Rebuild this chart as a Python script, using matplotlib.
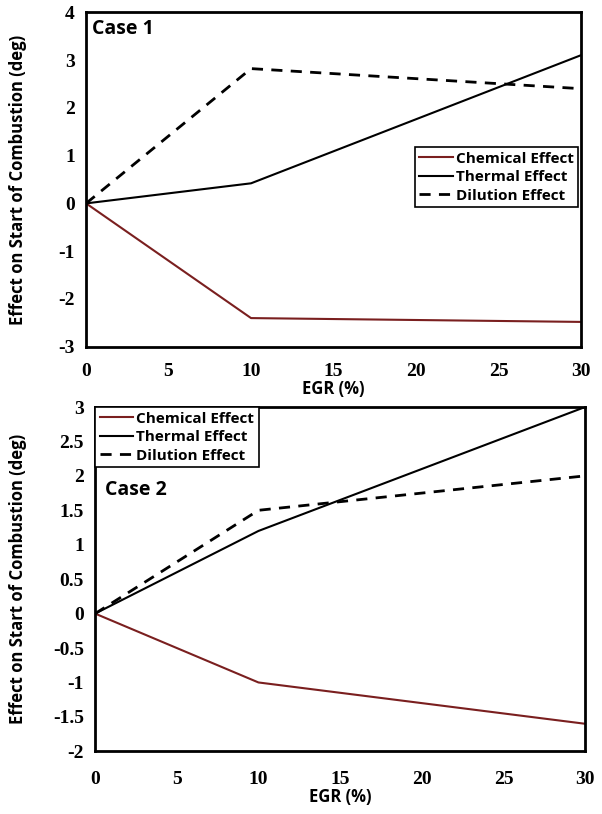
import matplotlib
matplotlib.use("Agg")
import matplotlib.pyplot as plt
from matplotlib.ticker import FuncFormatter, MultipleLocator

plt.rcParams['axes.unicode_minus'] = False

# data
egr = [0, 10, 30]

case1_chemical = [0, -2.4, -2.48]
case1_thermal = [0, 0.42, 3.1]
case1_dilution = [0, 2.82, 2.4]

case2_chemical = [0, -1.0, -1.6]
case2_thermal = [0, 1.2, 3.0]
case2_dilution = [0, 1.5, 2.0]

labels = ['Chemical Effect', 'Thermal Effect', 'Dilution Effect']
chem_color = '#7a1f1f'

label_font = dict(family='Open Sans', weight='bold', size=12)
tick_font = dict(family='Liberation Serif', weight='bold', size=14)
legend_font = dict(family='Open Sans', weight='bold', size=11)


def style_axes(ax, ylim, ystep, xpad):
    ax.set_xlim(0, 30)
    ax.set_ylim(*ylim)
    ax.xaxis.set_major_locator(MultipleLocator(5))
    ax.yaxis.set_major_locator(MultipleLocator(ystep))
    ax.yaxis.set_major_formatter(FuncFormatter(lambda v, p: '%g' % round(v, 2)))
    ax.tick_params(axis='x', length=0, pad=xpad)
    ax.tick_params(axis='y', length=0, pad=8)
    for lab in ax.get_xticklabels() + ax.get_yticklabels():
        lab.set_fontfamily(tick_font['family'])
        lab.set_fontweight(tick_font['weight'])
        lab.set_fontsize(tick_font['size'])
    for s in ax.spines.values():
        s.set_linewidth(2)
        s.set_color('black')
    ax.set_xlabel('EGR (%)', **label_font, labelpad=0)
    ax.set_ylabel('Effect on Start of Combustion (deg)', **label_font)


def plot_case(ax, chem, therm, dil):
    ax.plot(egr, chem, color=chem_color, lw=1.5, label=labels[0])
    ax.plot(egr, therm, color='black', lw=1.5, label=labels[1])
    ax.plot(egr, dil, color='black', lw=2, ls=(0, (4, 3)), label=labels[2])


def add_legend(ax, loc, anchor):
    leg = ax.legend(loc=loc, bbox_to_anchor=anchor, prop=legend_font,
                    fancybox=False, edgecolor='black', framealpha=1,
                    handlelength=2.2, handletextpad=0.2, borderpad=0.3,
                    labelspacing=0.3, borderaxespad=0)
    leg.get_frame().set_linewidth(1.2)
    return leg


fig = plt.figure(figsize=(6.02, 8.14), dpi=100)

ax1 = fig.add_axes([0.143, 0.574, 0.822, 0.411])
plot_case(ax1, case1_chemical, case1_thermal, case1_dilution)
style_axes(ax1, (-3, 4), 1, 12)
ax1.yaxis.set_label_coords(-0.12, 0.5)
ax1.text(0.012, 0.95, 'Case 1', transform=ax1.transAxes, family='Open Sans',
         weight='bold', size=14, va='center')
add_legend(ax1, 'upper right', (0.995, 0.597))

ax2 = fig.add_axes([0.158, 0.077, 0.814, 0.423])
plot_case(ax2, case2_chemical, case2_thermal, case2_dilution)
style_axes(ax2, (-2, 3), 0.5, 14)
ax2.yaxis.set_label_coords(-0.14, 0.5)
ax2.text(0.02, 0.76, 'Case 2', transform=ax2.transAxes, family='Open Sans',
         weight='bold', size=14, va='center')
add_legend(ax2, 'upper left', (0.0, 1.0))

fig.savefig('out.png', dpi=100)
